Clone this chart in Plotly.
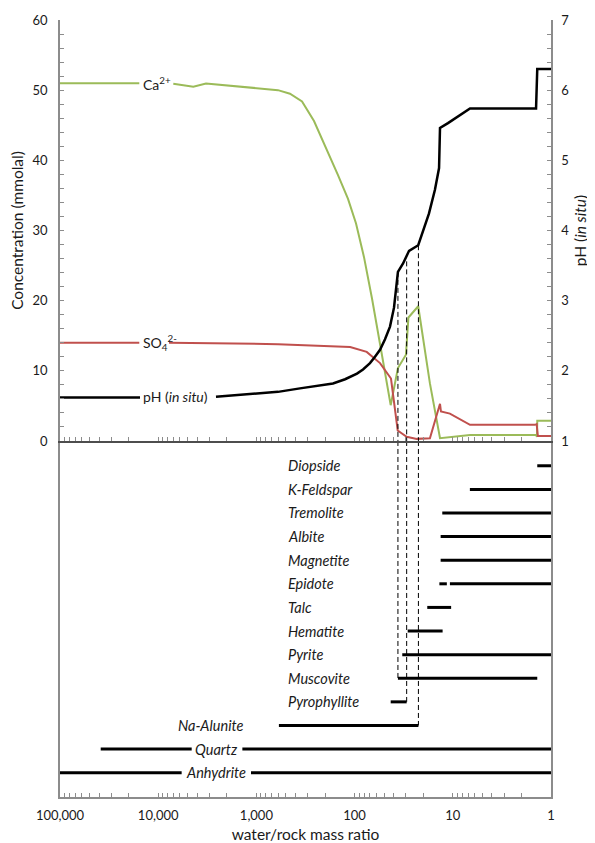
import numpy as np
import plotly.graph_objects as go

# ---------------- data ----------------
# Ca2+ (mmolal) vs water/rock ratio
ca_w = [100000, 15580, None, 7020, 4390, 3260, 603, 455, 343, 259, 195.5, 147.6, 116.7, 96.7, 80.2, 66.5,
        53.8, 42.9, 36.2, 30.0, 28.3, 22.5, 17.1, 13.5, 6.68, 1.42, 1.39, 1.38, 1.0]
ca_c = [51.0, 51.0, None, 50.9, 50.5, 50.95, 50.0, 49.5, 48.4, 45.6, 41.8, 37.9, 34.5, 31.0, 26.2, 20.3,
        13.0, 5.1, 10.4, 12.3, 17.6, 19.2, 8.2, 0.4, 0.85, 0.85, 0.6, 2.9, 2.9]

# SO4 2- (mmolal)
so4_w = [100000, 15580, None, 7760, 603, 111, 75.3, 55.1, 47.9, 42.6, 36.4, 29.5, 23.3, 17.1, 13.5, 13.2,
         10.7, 6.68, 1.46, 1.40, 1.36, 1.0]
so4_c = [14.0, 14.0, None, 14.0, 13.8, 13.4, 12.7, 11.1, 9.8, 8.9, 1.5, 0.6, 0.3, 0.4, 5.3, 4.2,
         3.9, 2.3, 2.3, 2.4, 0.7, 0.7]

# pH (in situ)
ph_w = [100000, 15320, None, 2580, 603, 360, 225, 166, 125, 94.6, 82.1, 69.7, 62.0, 55.1, 49.0, 43.6, 39.7,
        36.2, 32.1, 27.9, 22.5, 20.1, 17.5, 15.2, 13.8, 13.5, 11.2, 6.68, 1.42, 1.38, 1.0]
ph_v = [1.62, 1.62, None, 1.63, 1.70, 1.75, 1.79, 1.82, 1.88, 1.96, 2.02, 2.11, 2.20, 2.30, 2.45, 2.63, 2.90,
        3.41, 3.53, 3.71, 3.79, 4.0, 4.24, 4.58, 4.89, 5.46, 5.53, 5.74, 5.74, 6.30, 6.30]

# mineral stability ranges (water/rock start, end)
minerals = ["Diopside", "K-Feldspar", "Tremolite", "Albite", "Magnetite", "Epidote", "Talc", "Hematite",
            "Pyrite", "Muscovite", "Pyrophyllite", "Na-Alunite", "Quartz", "Anhydrite"]
mineral_ranges = [
    [(1.38, 1)],
    [(6.7, 1)],
    [(12.8, 1)],
    [(13.3, 1)],
    [(13.3, 1)],
    [(13.7, 11.5), (10.7, 1)],
    [(18.2, 10.4)],
    [(28.8, 12.7)],
    [(32.7, 1)],
    [(36.2, 1.38)],
    [(42.9, 29.5)],
    [(590, 22.4)],
    [(38500, 4560), (1390, 1)],
    [(100000, 5770), (1135, 1)],
]

# dashed guide lines: water/rock, pH at top, mineral row at bottom
guide_w = [36.2, 29.5, 22.4]
guide_ph = [3.41, 3.56, 3.79]
guide_mineral = ["Muscovite", "Pyrophyllite", "Na-Alunite"]

x_tickvals = [100000, 10000, 1000, 100, 10, 1]
x_ticktext = ["100,000", "10,000", "1,000", "100", "10", "1"]

# ---------------- figure ----------------
FONT = "Lato, 'Open Sans', sans-serif"
TXT = "#1a1a1a"
GRAY = "#8c8c8c"
n = len(minerals)
row_y = {m: n - 1 - i for i, m in enumerate(minerals)}

fig = go.Figure()

fig.add_trace(go.Scatter(x=ca_w, y=ca_c, xaxis="x2", yaxis="y", mode="lines",
                         line=dict(color="#9BBB59", width=2), connectgaps=False, hoverinfo="skip"))
fig.add_trace(go.Scatter(x=so4_w, y=so4_c, xaxis="x2", yaxis="y", mode="lines",
                         line=dict(color="#C0504D", width=2), connectgaps=False, hoverinfo="skip"))
fig.add_trace(go.Scatter(x=ph_w, y=ph_v, xaxis="x2", yaxis="y2", mode="lines",
                         line=dict(color="black", width=2.5), connectgaps=False, hoverinfo="skip"))

# dashed guides (top part + bottom part)
for w, p, m in zip(guide_w, guide_ph, guide_mineral):
    fig.add_trace(go.Scatter(x=[w, w], y=[p, 1], xaxis="x2", yaxis="y2", mode="lines",
                             line=dict(color="black", width=1, dash="5px,3px"), hoverinfo="skip"))
    fig.add_trace(go.Scatter(x=[w, w], y=[14.05, row_y[m]], xaxis="x", yaxis="y3", mode="lines",
                             line=dict(color="black", width=1, dash="5px,3px"), hoverinfo="skip"))

# mineral bars
for m, segs in zip(minerals, mineral_ranges):
    xs, ys = [], []
    for a, b in segs:
        xs += [a, b, None]
        ys += [row_y[m], row_y[m], None]
    fig.add_trace(go.Scatter(x=xs, y=ys, xaxis="x", yaxis="y3", mode="lines",
                             line=dict(color="black", width=3), connectgaps=False, hoverinfo="skip"))

annotations = []
# curve labels
lab_font = dict(family=FONT, size=14, color=TXT)
annotations.append(dict(x=np.log10(15000), y=51.0, xref="x2", yref="y", text="Ca<sup>2+</sup>",
                        showarrow=False, xanchor="left", yanchor="middle", font=lab_font))
annotations.append(dict(x=np.log10(15000), y=14.0, xref="x2", yref="y", text="SO<sub>4</sub><sup>2-</sup>",
                        showarrow=False, xanchor="left", yanchor="middle", font=lab_font))
annotations.append(dict(x=np.log10(15000), y=1.63, xref="x2", yref="y2", text="pH (<i>in situ</i>)",
                        showarrow=False, xanchor="left", yanchor="middle", font=lab_font))

# mineral labels
min_font = dict(family=FONT, size=14.5, color=TXT)
for m in minerals[:11]:
    annotations.append(dict(x=np.log10(500), y=row_y[m], xref="x", yref="y3", text=f"<i>{m}</i>",
                            showarrow=False, xanchor="left", yanchor="middle", font=min_font))
annotations.append(dict(x=np.log10(1320), y=row_y["Na-Alunite"], xref="x", yref="y3",
                        text="<i>Na-Alunite</i>", showarrow=False, xanchor="right", yanchor="middle",
                        font=min_font))
annotations.append(dict(x=np.log10(2520), y=row_y["Quartz"], xref="x", yref="y3", text="<i>Quartz</i>",
                        showarrow=False, xanchor="center", yanchor="middle", font=min_font))
annotations.append(dict(x=np.log10(2560), y=row_y["Anhydrite"], xref="x", yref="y3", text="<i>Anhydrite</i>",
                        showarrow=False, xanchor="center", yanchor="middle", font=min_font))

split = 0.4582
tickfont = dict(family=FONT, size=13, color=TXT)
minor_x = [k * 10 ** e for e in range(0, 5) for k in range(2, 10)]

fig.update_layout(
    width=587, height=835,
    margin=dict(l=52, r=44, t=12, b=46),
    paper_bgcolor="white", plot_bgcolor="white",
    showlegend=False,
    font=dict(family=FONT, color=TXT),
    annotations=annotations,
    xaxis=dict(type="log", range=[5, 0], domain=[0, 1], anchor="y3",
               tickvals=x_tickvals, ticktext=x_ticktext, tickfont=tickfont,
               ticks="inside", ticklen=4, tickcolor=GRAY, ticklabelstandoff=6,
               minor=dict(ticks="inside", ticklen=4, tickcolor=GRAY, tickvals=minor_x),
               showline=True, linecolor=GRAY, linewidth=1.5, showgrid=False, zeroline=False,
               title=dict(text="water/rock mass ratio", font=dict(family=FONT, size=15.5, color=TXT),
                          standoff=7),
               automargin=False),
    xaxis2=dict(type="log", range=[5, 0], domain=[0, 1], anchor="y", matches="x",
                showticklabels=False, ticks="inside", ticklen=4, tickcolor=GRAY,
                tickvals=x_tickvals,
                minor=dict(ticks="inside", ticklen=4, tickcolor=GRAY, tickvals=minor_x),
                showline=True, linecolor="#4d4d4d", linewidth=1.5, showgrid=False, zeroline=False,
                automargin=False),
    yaxis=dict(domain=[split, 1], anchor="x2", range=[0, 60], dtick=10, tickfont=tickfont,
               ticks="inside", ticklen=4, tickcolor=GRAY, ticklabelstandoff=8,
               minor=dict(ticks="inside", ticklen=4, tickcolor=GRAY, dtick=2),
               showline=True, linecolor=GRAY, linewidth=1.5, showgrid=False, zeroline=False,
               title=dict(text="Concentration (mmolal)", font=dict(family=FONT, size=15.5, color=TXT),
                          standoff=6),
               automargin=False),
    yaxis2=dict(overlaying="y", side="right", anchor="x2", range=[1, 7], dtick=1, tickfont=tickfont,
                ticks="inside", ticklen=4, tickcolor=GRAY, ticklabelstandoff=6,
                minor=dict(ticks="inside", ticklen=4, tickcolor=GRAY, dtick=0.2),
                showline=True, linecolor=GRAY, linewidth=1.5, showgrid=False, zeroline=False,
                title=dict(text="pH (<i>in situ</i>)", font=dict(family=FONT, size=15.5, color=TXT),
                           standoff=7),
                automargin=False),
    yaxis3=dict(domain=[0, split], anchor="x", range=[-1.03, 14.05], showticklabels=False, ticks="",
                showline=True, mirror=True, linecolor=GRAY, linewidth=1.5, showgrid=False,
                zeroline=False, automargin=False),
)

fig.write_html("out.html")
